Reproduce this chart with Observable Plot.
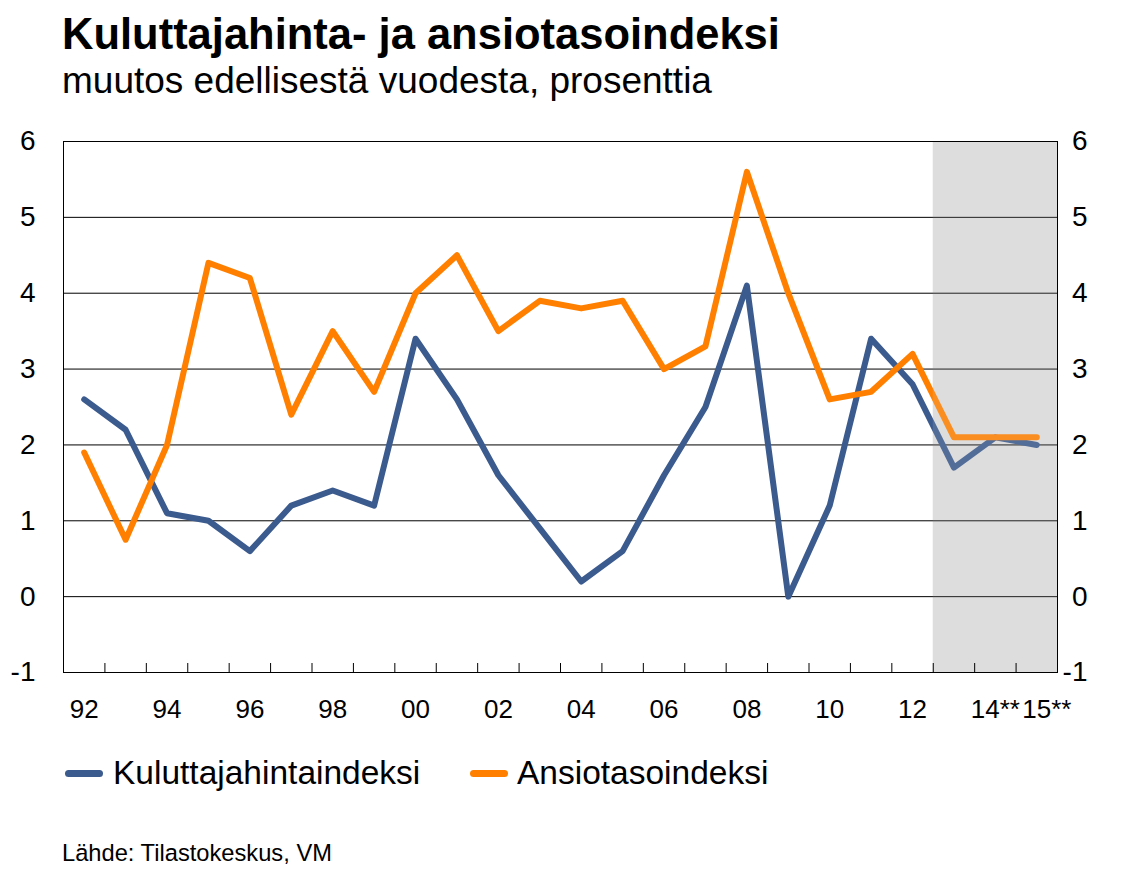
<!DOCTYPE html>
<html><head><meta charset="utf-8">
<script src="https://cdn.jsdelivr.net/npm/d3@7"></script>
<script src="https://cdn.jsdelivr.net/npm/@observablehq/plot@0.6"></script>
<style>
body{margin:0;background:#fff;font-family:"Liberation Sans",Arial,sans-serif;}
#wrap{position:relative;width:1130px;height:881px;overflow:hidden;background:#fff}
.t{position:absolute;white-space:nowrap;line-height:1;color:#000}
.sw{position:absolute;height:7px;border-radius:4px;width:38px}
</style></head><body><div id="wrap">
<div class="t" style="left:62px;top:13px;font-size:43.5px;font-weight:bold">Kuluttajahinta- ja ansiotasoindeksi</div>
<div class="t" style="left:62px;top:62px;font-size:37px">muutos edellisestä vuodesta, prosenttia</div>
<div id="chart" style="position:absolute;left:0;top:110px"></div>
<div id="legend"></div>
<div class="t" style="left:62px;top:842px;font-size:23.7px">Lähde: Tilastokeskus, VM</div>
</div>
<script>
const years = [1992,1993,1994,1995,1996,1997,1998,1999,2000,2001,2002,2003,2004,2005,2006,2007,2008,2009,2010,2011,2012,2013,2014,2015];
const kuluttajahinta = [2.6,2.2,1.1,1.0,0.6,1.2,1.4,1.2,3.4,2.6,1.6,0.9,0.2,0.6,1.6,2.5,4.1,0.0,1.2,3.4,2.8,1.7,2.1,2.0];
const ansiotaso = [1.9,0.75,2.0,4.4,4.2,2.4,3.5,2.7,4.0,4.5,3.5,3.9,3.8,3.9,3.0,3.3,5.6,4.0,2.6,2.7,3.2,2.1,2.1,2.1];
const forecastYears = [2013,2014,2015];
const seriesNames = ["Kuluttajahintaindeksi","Ansiotasoindeksi"];
const seriesColors = ["#3b5a8e","#ff8000"];
const yTicks = [-1,0,1,2,3,4,5,6];
const xLabelYears = [1992,1994,1996,1998,2000,2002,2004,2006,2008,2010,2012,2014];
const lastLabelYears = [2015];
const starredYears = [2014,2015];

const rows = [
  ...years.map((year,i)=>({year, series: seriesNames[0], value: kuluttajahinta[i]})),
  ...years.map((year,i)=>({year, series: seriesNames[1], value: ansiotaso[i]}))
];
const shade = [{x1: d3.min(forecastYears)-0.5, x2: d3.max(forecastYears)+0.5}];
const boundaries = d3.range(years[0]+0.5, years[years.length-1], 1);
const fs = 28, fsx = 26;
const yFmt = d => d < 0 ? "-" + Math.abs(d) : String(d);
const xFmt = d => String(d % 100).padStart(2, "0") + (starredYears.includes(d) ? "**" : "");

const chart = Plot.plot({
  width:1130, height:620,
  marginTop:31, marginBottom:58, marginLeft:63, marginRight:73,
  x:{domain:[years[0]-0.5, years[years.length-1]+0.5]},
  y:{domain:[yTicks[0], yTicks[yTicks.length-1]]},
  color:{domain:seriesNames, range:seriesColors},
  style:{fontFamily:"'Liberation Sans', Arial, sans-serif", fontSize:fs+"px", color:"#000", background:"transparent"},
  marks:[
    Plot.rect(shade,{x1:"x1",x2:"x2",fill:"#dddddd"}),
    Plot.gridY(yTicks,{stroke:"#000",strokeOpacity:1,strokeWidth:1}),
    Plot.line(rows,{x:"year",y:"value",z:"series",stroke:"series",strokeWidth:6,strokeLinejoin:"round",strokeLinecap:"round"}),
    Plot.rect(shade,{x1:"x1",x2:"x2",fill:"#dddddd",fillOpacity:0.15}),
    Plot.frame({stroke:"#000",strokeWidth:1}),
    Plot.axisY(yTicks,{anchor:"left",tickSize:0,tickPadding:28,tickFormat:yFmt,label:null,fontSize:fs}),
    Plot.axisY(yTicks,{anchor:"right",tickSize:0,tickPadding:30,textAnchor:"end",tickFormat:yFmt,label:null,fontSize:fs}),
    Plot.axisX(boundaries,{anchor:"bottom",tickSize:-9,tickFormat:()=>"",label:null}),
    Plot.axisX(xLabelYears,{anchor:"bottom",tickSize:0,tickPadding:27,tickFormat:xFmt,label:null,fontSize:fsx}),
    Plot.text(lastLabelYears,{x:d=>d,frameAnchor:"bottom",text:xFmt,textAnchor:"start",lineAnchor:"top",dx:-0.556*fsx,dy:27,fontSize:fsx})
  ]
});
document.getElementById("chart").appendChild(chart);

const legend = document.getElementById("legend");
const legendX = [[65,113],[470,517]];
seriesNames.forEach((name,i)=>{
  const sw = document.createElement("div");
  sw.className="sw";
  sw.style.left = legendX[i][0]+"px"; sw.style.top="770px"; sw.style.background=seriesColors[i];
  legend.appendChild(sw);
  const tx = document.createElement("div");
  tx.className="t"; tx.style.left=legendX[i][1]+"px"; tx.style.top="756px"; tx.style.fontSize="33.5px";
  tx.textContent = name;
  legend.appendChild(tx);
});
</script>
</body></html>
